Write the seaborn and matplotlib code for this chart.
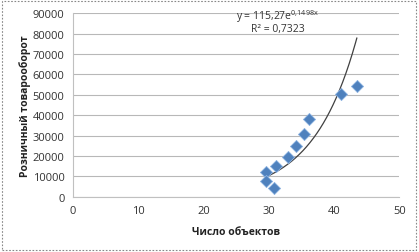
import numpy as np
import pandas as pd
import matplotlib
matplotlib.use("Agg")
import matplotlib.pyplot as plt
import seaborn as sns
from matplotlib.patches import Rectangle

sns.set_theme(style="white")
plt.rcParams['font.family'] = ['Open Sans', 'DejaVu Sans']
plt.rcParams['mathtext.fontset'] = 'custom'
plt.rcParams['mathtext.rm'] = 'Open Sans'
plt.rcParams['mathtext.it'] = 'Open Sans'

objects = [29.5, 29.6, 30.8, 31.1, 32.9, 34.2, 35.4, 36.1, 41.0, 43.5]
turnover = [11900, 7900, 4100, 15200, 19300, 25000, 30900, 38300, 50600, 54500]
trend_a = 115.27
trend_b = 0.1498
equation_text = "y = 115,27e$^{\\mathrm{0{,}1498x}}$"
r2_text = "R² = 0,7323"
x_ticks = [0, 10, 20, 30, 40, 50]
y_ticks = [0, 10000, 20000, 30000, 40000, 50000, 60000, 70000, 80000, 90000]

df = pd.DataFrame({"x": objects, "y": turnover})

fig = plt.figure(figsize=(4.19, 2.53), dpi=100)
ax = fig.add_axes([73/419, 1 - 197.7/253, (399.3-73)/419, (197.7-14.3)/253])

xs = np.linspace(min(objects), max(objects), 200)
trend = pd.DataFrame({"x": xs, "y": trend_a * np.exp(trend_b * xs)})
sns.lineplot(data=trend, x="x", y="y", ax=ax, color="#404040", linewidth=0.9, zorder=2)
sns.scatterplot(data=df, x="x", y="y", ax=ax, marker="D", s=38, color="#4F81BD",
                edgecolor="#8DB3E2", linewidth=0.6, zorder=3)

ax.set_xlim(0, 50)
ax.set_ylim(0, 90000)
ax.set_xticks(x_ticks)
ax.set_yticks(y_ticks)
ax.set_xticklabels([str(t) for t in x_ticks], fontsize=8, color="#333333")
ax.set_yticklabels([str(t) for t in y_ticks], fontsize=8, color="#333333")
ax.tick_params(axis='both', length=0, pad=6)
ax.yaxis.grid(True, color="#b8b8b8", linewidth=0.8)
ax.xaxis.grid(False)
ax.set_axisbelow(True)
for side in ["top", "right"]:
    ax.spines[side].set_visible(False)
for side in ["left", "bottom"]:
    ax.spines[side].set_color("#c0c0c0")
    ax.spines[side].set_linewidth(0.8)

ax.set_xlabel("Число объектов", fontsize=7.5, fontweight="bold", color="#222222", labelpad=7)
ax.set_ylabel("Розничный товарооборот", fontsize=7.5, fontweight="bold", color="#222222", labelpad=1)

ax.text(0.627, 0.985, equation_text, transform=ax.transAxes, ha="center", va="center",
        fontsize=7.5, color="#333333")
ax.text(0.627, 0.915, r2_text, transform=ax.transAxes, ha="center", va="center",
        fontsize=7.5, color="#333333")

fig.patches.append(Rectangle((0.004, 0.006), 0.99, 0.988, transform=fig.transFigure,
                             fill=False, edgecolor="#888888", linewidth=0.8,
                             linestyle=(0, (1.5, 1.5))))

fig.savefig("out.png", dpi=100)
